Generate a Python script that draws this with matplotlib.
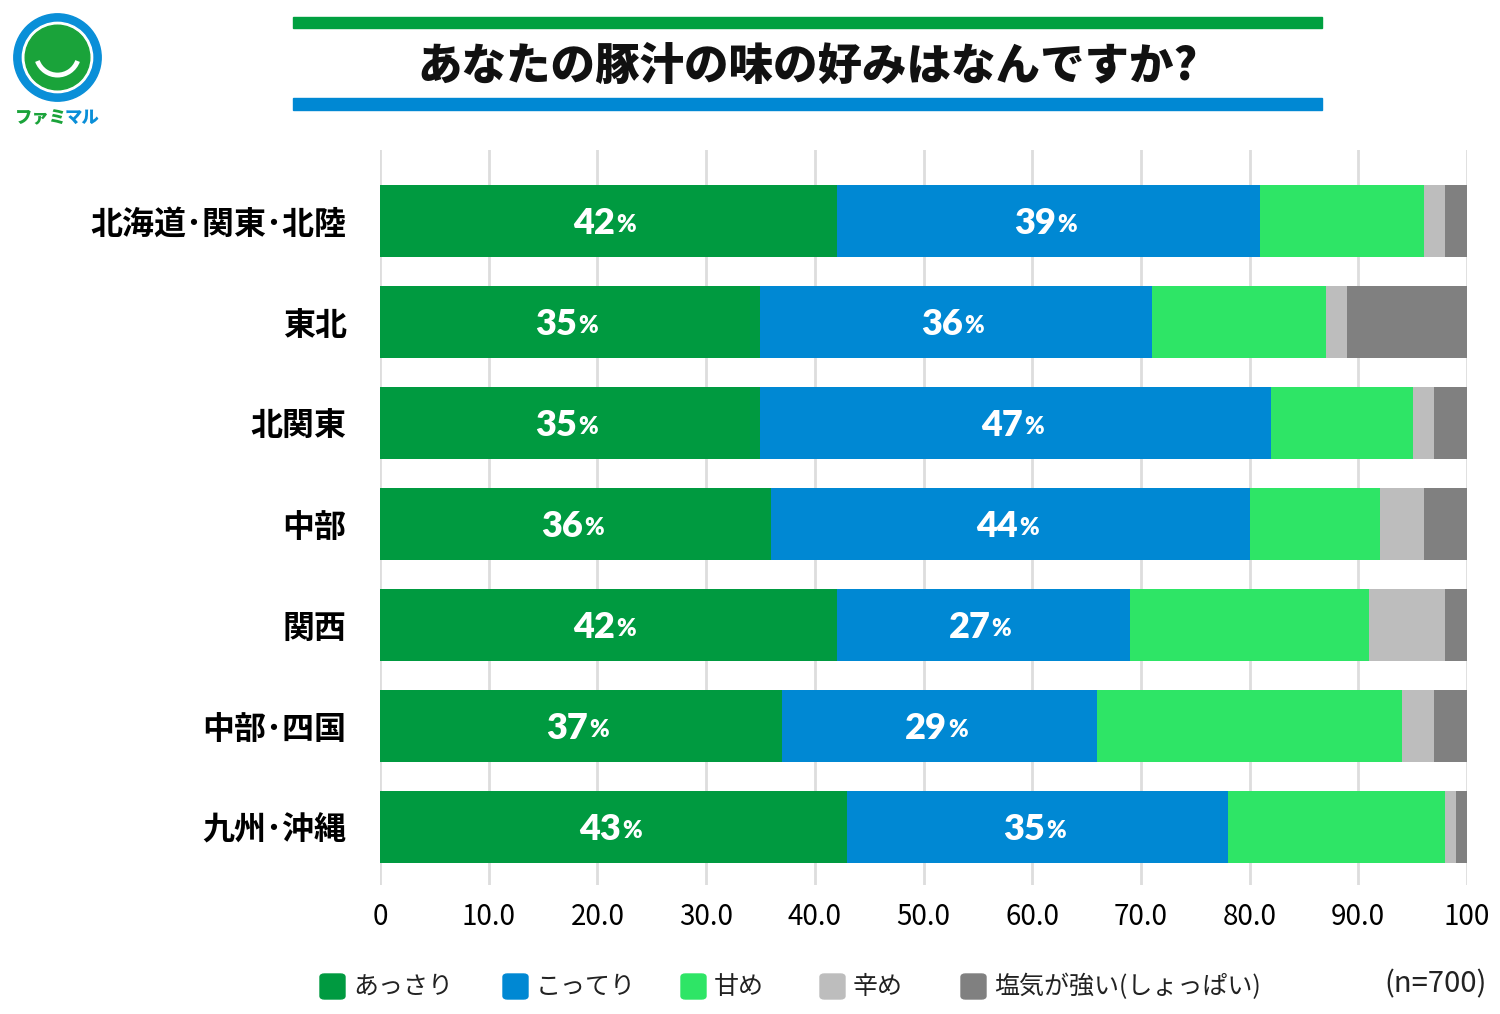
import matplotlib
matplotlib.use("Agg")
import matplotlib.pyplot as plt
import matplotlib.patches as mpatches
import numpy as np

plt.rcParams['font.family'] = ['Noto Sans CJK JP', 'DejaVu Sans']

# data
regions = ["北海道･関東･北陸", "東北", "北関東", "中部", "関西", "中部･四国", "九州･沖縄"]
assari = [42, 35, 35, 36, 42, 37, 43]
kotteri = [39, 36, 47, 44, 27, 29, 35]
amame = [15, 16, 13, 12, 22, 28, 20]
karame = [2, 2, 2, 4, 7, 3, 1]
shiokara = [2, 11, 3, 4, 2, 3, 1]
series_names = ["あっさり", "こってり", "甘め", "辛め", "塩気が強い(しょっぱい)"]
xticks = [0, 10, 20, 30, 40, 50, 60, 70, 80, 90, 100]
xtick_labels = ["0", "10.0", "20.0", "30.0", "40.0", "50.0", "60.0", "70.0", "80.0", "90.0", "100"]

colors = ["#009a40", "#0088d3", "#2ee566", "#bdbdbd", "#808080"]

W, H = 1500, 1014
fig = plt.figure(figsize=(15, 10.14), dpi=100)

ax = fig.add_axes([380 / W, 1 - 885 / H, 1087 / W, 735 / H])
y = np.arange(len(regions))
series = [assari, kotteri, amame, karame, shiokara]
left = np.zeros(len(regions))
for i, vals in enumerate(series):
    vals = np.array(vals, dtype=float)
    bars = ax.barh(y, vals, left=left, height=0.72, color=colors[i], zorder=2)
    if i < 2:
        # only the first two series carry labels
        for b, v in zip(bars, vals):
            cx = b.get_x() + b.get_width() / 2
            cy = b.get_y() + b.get_height() / 2
            t = ax.annotate(f"{int(v)}", xy=(cx, cy), xytext=(-10, -2), textcoords="offset points",
                            ha="center", va="center", color="white", fontsize=26,
                            fontweight="heavy", family=["Lato", "DejaVu Sans"], zorder=3)
            ax.annotate("%", xy=(1, 0.12), xycoords=t, xytext=(1, 0), textcoords="offset points",
                        ha="left", va="bottom", color="white", fontsize=17,
                        fontweight="heavy", family=["Lato", "DejaVu Sans"], zorder=3)
    left += vals

ax.set_xlim(0, 100)
ax.set_ylim(6.574, -0.703)
ax.set_yticks(y)
ax.set_yticklabels(regions, fontsize=23, fontweight="bold")
ax.set_xticks(xticks)
ax.set_xticklabels(xtick_labels, fontsize=20)
ax.tick_params(axis="y", length=0, pad=24)
ax.tick_params(axis="x", length=0, pad=12)
ax.grid(axis="x", color="#dddddd", linewidth=2, zorder=0)
for s in ax.spines.values():
    s.set_visible(False)

# title with bands
fig.patches.append(mpatches.Rectangle((293 / W, 1 - 28 / H), 1029 / W, 11 / H,
                                      transform=fig.transFigure, color="#00a040"))
fig.patches.append(mpatches.Rectangle((293 / W, 1 - 110 / H), 1029 / W, 12 / H,
                                      transform=fig.transFigure, color="#0088d3"))
fig.text(808 / W, 1 - 66 / H, "あなたの豚汁の味の好みはなんですか?", ha="center", va="center",
         fontsize=32, fontweight="heavy", color="#111111")

# logo
lax = fig.add_axes([10 / W, 1 - 105 / H, 95 / W, 95 / H])
lax.set_xlim(-1, 1)
lax.set_ylim(-1, 1)
lax.set_aspect("equal")
lax.axis("off")
lax.add_patch(mpatches.Circle((0, 0), 0.92, color="#0a8fd8"))
lax.add_patch(mpatches.Circle((0, 0), 0.74, color="white"))
lax.add_patch(mpatches.Circle((0, 0), 0.68, color="#1aa33a"))
lax.add_patch(mpatches.Arc((0, 0.08), 0.9, 0.9, theta1=200, theta2=340, color="white", linewidth=3.5))
t1 = fig.text(15 / W, 1 - 118 / H, "ファミ", ha="left", va="center", fontsize=12.5,
              fontweight="heavy", color="#1aa33a")
fig.add_artist(plt.Annotation("マル", xy=(1, 0), xycoords=t1, xytext=(-2, 0), textcoords="offset points",
                              ha="left", va="bottom", fontsize=12.5, fontweight="heavy", color="#0a8fd8"))

# legend
leg_x = [320, 503, 681, 820, 961]
for lx, name, c in zip(leg_x, series_names, colors):
    fig.patches.append(mpatches.FancyBboxPatch((lx / W, 1 - 999 / H), 25 / W, 25 / H,
                                               boxstyle="round,pad=0,rounding_size=0.003",
                                               transform=fig.transFigure, color=c))
    fig.text((lx + 33) / W, 1 - 987 / H, name, ha="left", va="center", fontsize=18, color="#222222")
fig.text(1487 / W, 1 - 984 / H, "(n=700)", ha="right", va="center", fontsize=21, color="#222222")

fig.savefig("out.png", dpi=100, facecolor="white")
